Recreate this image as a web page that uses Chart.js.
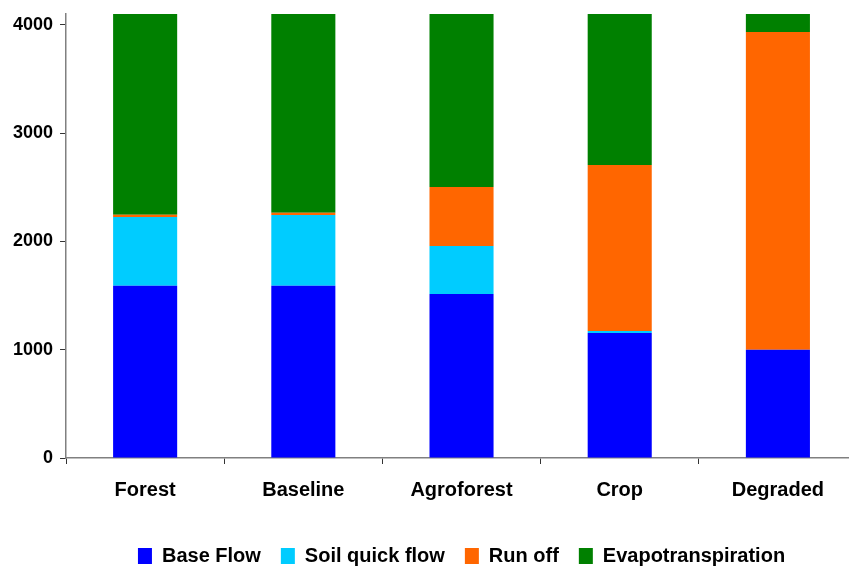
<!DOCTYPE html>
<html>
<head>
<meta charset="utf-8">
<script src="https://cdn.jsdelivr.net/npm/chart.js@4.4.0/dist/chart.umd.min.js"></script>
<style>
  html, body { margin: 0; padding: 0; background: #fff; }
  #clip { width: 849px; height: 566px; overflow: hidden; position: relative; }
  #wrap { width: 862px; height: 576px; position: absolute; left: 0; top: 0; }
</style>
</head>
<body>
<div id="clip"><div id="wrap"><canvas id="chart"></canvas></div></div>
<script>
// datos
const scenarios = ['Forest', 'Baseline', 'Agroforest', 'Crop', 'Degraded'];
const baseFlow = [1590, 1590, 1515, 1155, 1000];
const soilQuickFlow = [635, 654, 443, 18, 0];
const runOff = [22, 21, 544, 1532, 2934];
const evapo = [1853, 1835, 1598, 1395, 166];
const yTicks = [0, 1000, 2000, 3000, 4000];

const FONT = "'Liberation Sans', Arial, sans-serif";

new Chart(document.getElementById('chart'), {
  type: 'bar',
  data: {
    labels: scenarios,
    datasets: [
      { label: 'Base Flow', data: baseFlow, backgroundColor: '#0000FF' },
      { label: 'Soil quick flow', data: soilQuickFlow, backgroundColor: '#00CCFF' },
      { label: 'Run off', data: runOff, backgroundColor: '#FF6600' },
      { label: 'Evapotranspiration', data: evapo, backgroundColor: '#008000' }
    ]
  },
  options: {
    responsive: true,
    maintainAspectRatio: false,
    animation: false,
    datasets: { bar: { categoryPercentage: 1, barPercentage: 0.405, borderWidth: 0 } },
    layout: { padding: { left: 6, right: 5, top: 14, bottom: 0 } },
    scales: {
      x: {
        stacked: true,
        grid: { drawOnChartArea: false, drawTicks: true, tickLength: 6, color: '#333' },
        border: { color: '#808080', width: 1.5 },
        ticks: { color: '#000', padding: 14, font: { family: FONT, size: 20, weight: 'bold' } },
        afterFit: s => { s.height += 10; }
      },
      y: {
        stacked: true,
        min: 0,
        max: 4100,
        grid: { drawOnChartArea: false, drawTicks: true, tickLength: 6, color: '#333' },
        border: { color: '#808080', width: 1.5 },
        ticks: {
          color: '#000', padding: 7,
          font: { family: FONT, size: 18, weight: 'bold' },
          callback: v => String(v)
        },
        afterBuildTicks: s => { s.ticks = yTicks.map(v => ({ value: v })); },
        afterFit: s => { s.paddingTop = 0; }
      }
    },
    plugins: {
      legend: {
        position: 'bottom',
        fullSize: false,
        labels: {
          color: '#000',
          boxWidth: 14,
          boxHeight: 16,
          padding: 20,
          font: { family: FONT, size: 20, weight: 'bold' }
        }
      },
      tooltip: { enabled: false }
    }
  }
});
</script>
</body>
</html>
